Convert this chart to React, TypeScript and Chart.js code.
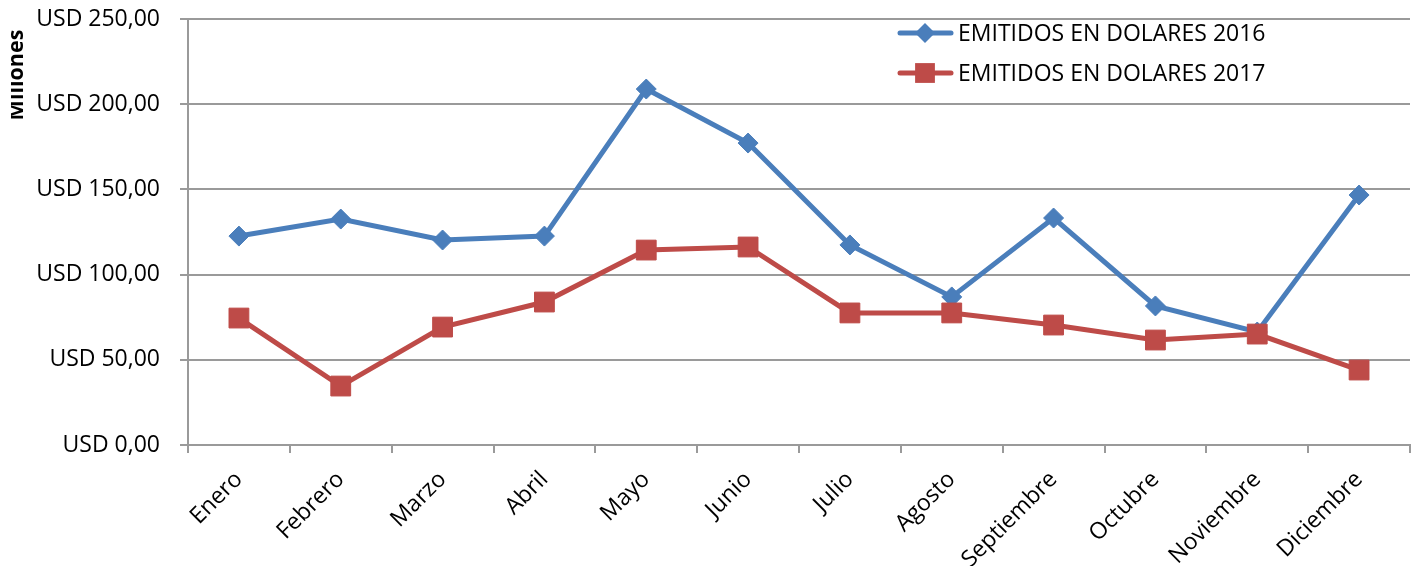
import React, { useEffect, useRef } from "react";
import { Chart, registerables } from "chart.js";

Chart.register(...registerables);

const months = [
  "Enero", "Febrero", "Marzo", "Abril", "Mayo", "Junio",
  "Julio", "Agosto", "Septiembre", "Octubre", "Noviembre", "Diciembre",
];
const emitidos2016 = [122.6, 132.6, 120.3, 122.6, 208.9, 177.2, 117.4, 86.9, 133.2, 81.6, 66.3, 146.7];
const emitidos2017 = [74.5, 34.6, 69.2, 83.9, 114.4, 116.2, 77.5, 77.5, 70.4, 61.6, 65.1, 44.0];
const seriesLabels = ["EMITIDOS EN DOLARES 2016", "EMITIDOS EN DOLARES 2017"];
const yTicks = [0, 50, 100, 150, 200, 250];
const yTitle = "Millones";

const FONT = "'Open Sans', sans-serif";
const BLUE = "#4A7EBB";
const RED = "#BE4B48";
const GRID = "#9A9A9A";

const fmt = (v: number) => "USD " + v.toFixed(2).replace(".", ",");

function drawMarker(ctx: CanvasRenderingContext2D, style: string, x: number, y: number, r: number, color: string) {
  ctx.save();
  ctx.fillStyle = color;
  ctx.beginPath();
  if (style === "rectRot") {
    ctx.moveTo(x - r, y);
    ctx.lineTo(x, y - r);
    ctx.lineTo(x + r, y);
    ctx.lineTo(x, y + r);
  } else {
    const s = Math.SQRT1_2 * r;
    ctx.rect(x - s, y - s, 2 * s, 2 * s);
  }
  ctx.closePath();
  ctx.fill();
  ctx.restore();
}

const overlayPlugin = {
  id: "overlay",
  afterDraw(chart: any) {
    const ctx: CanvasRenderingContext2D = chart.ctx;
    // legend
    chart.data.datasets.forEach((ds: any, i: number) => {
      const y = 33 + i * 40;
      ctx.save();
      ctx.strokeStyle = ds.borderColor;
      ctx.lineWidth = ds.borderWidth;
      ctx.lineCap = "round";
      ctx.beginPath();
      ctx.moveTo(900, y);
      ctx.lineTo(951, y);
      ctx.stroke();
      ctx.restore();
      drawMarker(ctx, ds.pointStyle, 925, y, ds.pointRadius, ds.borderColor);
      ctx.save();
      ctx.fillStyle = "#000";
      ctx.font = `23px ${FONT}`;
      ctx.textBaseline = "middle";
      ctx.textAlign = "left";
      ctx.fillText(ds.label, 958, y + 1);
      ctx.restore();
    });
    // y axis title (clipped)
    ctx.save();
    ctx.beginPath();
    ctx.rect(11, 0, 60, 200);
    ctx.clip();
    ctx.translate(23, 75);
    ctx.rotate(-Math.PI / 2);
    ctx.fillStyle = "#000";
    ctx.font = `bold 21.5px ${FONT}`;
    ctx.textAlign = "center";
    ctx.textBaseline = "alphabetic";
    ctx.fillText(yTitle, 0, 0);
    ctx.restore();
  },
};

export default function App() {
  const ref = useRef<HTMLCanvasElement | null>(null);

  useEffect(() => {
    if (!ref.current) return;
    const chart = new Chart(ref.current, {
      type: "line",
      data: {
        labels: months,
        datasets: [
          {
            label: seriesLabels[0],
            data: emitidos2016,
            borderColor: BLUE,
            backgroundColor: BLUE,
            pointBackgroundColor: BLUE,
            pointBorderColor: BLUE,
            borderWidth: 5,
            pointStyle: "rectRot",
            pointRadius: 10,
            pointBorderWidth: 1,
            tension: 0,
            order: 1,
          },
          {
            label: seriesLabels[1],
            data: emitidos2017,
            borderColor: RED,
            backgroundColor: RED,
            pointBackgroundColor: RED,
            pointBorderColor: RED,
            borderWidth: 5,
            pointStyle: "rect",
            pointRadius: 14,
            pointBorderWidth: 1,
            tension: 0,
            order: 0,
          },
        ],
      },
      options: {
        responsive: false,
        animation: false,
        layout: { padding: { left: 0, top: 19, right: 9, bottom: 0 } },
        plugins: {
          legend: { display: false },
          tooltip: { enabled: false },
          title: { display: false },
        },
        scales: {
          x: {
            type: "category",
            offset: true,
            grid: {
              offset: true,
              drawOnChartArea: false,
              drawTicks: true,
              tickLength: 8,
              color: GRID,
              lineWidth: 2,
            },
            border: { display: true, color: GRID, width: 2 },
            ticks: {
              minRotation: 45,
              maxRotation: 45,
              autoSkip: false,
              padding: 13,
              color: "#000",
              font: { family: FONT, size: 23 },
            },
            afterFit: (scale: any) => {
              scale.height = 121;
              scale.paddingLeft = 0;
              scale.paddingRight = 0;
            },
          },
          y: {
            min: 0,
            max: 250,
            grid: {
              color: GRID,
              lineWidth: 2,
              drawTicks: true,
              tickLength: 8,
            },
            border: { display: true, color: GRID, width: 2 },
            afterBuildTicks: (scale: any) => {
              scale.ticks = yTicks.map((v) => ({ value: v }));
            },
            ticks: {
              padding: 20,
              color: "#000",
              font: { family: FONT, size: 23 },
              callback: (v: any) => fmt(Number(v)),
            },
            afterFit: (scale: any) => {
              scale.width = 188;
              scale.paddingTop = 0;
              scale.paddingBottom = 0;
            },
          },
        },
      },
      plugins: [overlayPlugin],
    });
    return () => chart.destroy();
  }, []);

  return (
    <div style={{ position: "fixed", left: 0, top: 0, width: 1425, height: 566, background: "#fff" }}>
      <canvas ref={ref} width={1425} height={566} style={{ display: "block", width: 1425, height: 566 }} />
    </div>
  );
}
